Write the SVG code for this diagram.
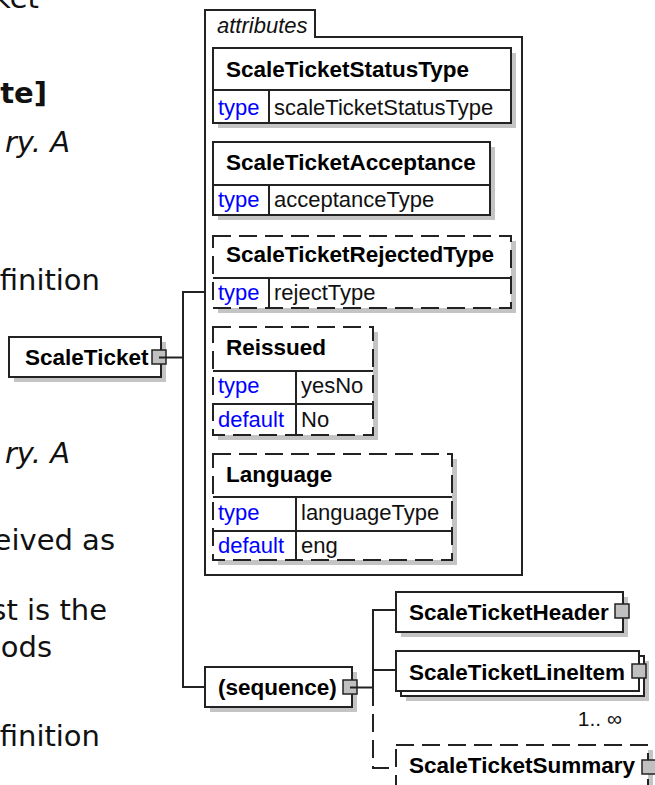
<svg xmlns="http://www.w3.org/2000/svg" width="655" height="785" viewBox="0 0 655 785">
<style>
.doc{font-family:"DejaVu Sans",Verdana,sans-serif;font-size:29px;fill:#111}
.docb{font-weight:bold}
.doci{font-style:italic}
.box{fill:#fff;stroke:#222;stroke-width:2}
.dash{stroke-dasharray:18 8}
.sh{fill:#c4c4c4}
.ln{fill:none;stroke:#222;stroke-width:2}
.div{stroke:#222;stroke-width:2}
.name{font-family:"Liberation Sans",Arial,sans-serif;font-weight:bold;font-size:22.5px;fill:#000}
.key{font-family:"Liberation Sans",Arial,sans-serif;font-size:22px;fill:#0000ff}
.val{font-family:"Liberation Sans",Arial,sans-serif;font-size:22px;fill:#111}
.small{font-family:"Liberation Sans",Arial,sans-serif;font-size:21px;fill:#111}
.tab{font-family:"Liberation Sans",Arial,sans-serif;font-style:italic;font-size:22px;fill:#111}
.btn{fill:#c0c0c0;stroke:#222;stroke-width:1.5}
</style>
<rect width="655" height="785" fill="#fff"/>
<g id="doc-text" class="doc" text-anchor="end">
<text x="39" y="8">ket</text>
<text x="47" y="103" class="docb">ute]</text>
<text x="70" y="152" class="doci">ry. A</text>
<text x="100" y="290">finition</text>
<text x="70" y="463" class="doci">ry. A</text>
<text x="115" y="550">eived as</text>
<text x="107" y="620">st is the</text>
<text x="52" y="657">ods</text>
<text x="100" y="746">finition</text>
</g>
<g id="connectors" class="ln">
<path d="M159,357.5 H183"/>
<path d="M205,292 H183 V687 H205"/>
<path d="M350,687.5 H373"/>
<path d="M396,610 H373 V688"/>
<path d="M373,670 H396"/>
<path d="M373,688 V768 H396" stroke-dasharray="18 8"/>
</g>
<g id="node-ScaleTicket">
<rect class="sh" x="14" y="342" width="152" height="40"/>
<rect class="box" x="9" y="337" width="152" height="40"/>
<text class="name" x="25" y="365">ScaleTicket</text>
<rect class="btn" x="152" y="350" width="14" height="14"/>
<line class="div" x1="159" y1="357.5" x2="166" y2="357.5"/>
</g>
<g id="attributes">
<path d="M205,575 V10 H315 V37 H522 V575 Z" fill="#fff" stroke="#222" stroke-width="2"/>
<text class="tab" x="217" y="33">attributes</text>
</g>
<g id="attr-ScaleTicketStatusType">
<rect class="sh" x="218" y="53" width="298" height="75"/>
<rect class="box" x="213" y="48" width="298" height="75"/>
<line class="div" x1="213" y1="90" x2="511" y2="90"/>
<line class="div" x1="269" y1="90" x2="269" y2="123"/>
<text class="name" x="226" y="77">ScaleTicketStatusType</text>
<text class="key" x="218" y="115">type</text>
<text class="val" x="274" y="115">scaleTicketStatusType</text>
</g>
<g id="attr-ScaleTicketAcceptance">
<rect class="sh" x="218" y="147" width="277" height="73"/>
<rect class="box" x="213" y="142" width="277" height="73"/>
<line class="div" x1="213" y1="185" x2="490" y2="185"/>
<line class="div" x1="269" y1="185" x2="269" y2="215"/>
<text class="name" x="226" y="170">ScaleTicketAcceptance</text>
<text class="key" x="218" y="207">type</text>
<text class="val" x="274" y="207">acceptanceType</text>
</g>
<g id="attr-ScaleTicketRejectedType">
<rect class="sh" x="218" y="241" width="298" height="72"/>
<rect class="box dash" x="213" y="236" width="298" height="72"/>
<line class="div" x1="213" y1="278" x2="511" y2="278"/>
<line class="div" x1="269" y1="278" x2="269" y2="308"/>
<text class="name" x="226" y="262">ScaleTicketRejectedType</text>
<text class="key" x="218" y="300">type</text>
<text class="val" x="274" y="300">rejectType</text>
</g>
<g id="attr-Reissued">
<rect class="sh" x="218" y="332" width="160" height="108"/>
<rect class="box dash" x="213" y="327" width="160" height="108"/>
<line class="div" x1="213" y1="371" x2="373" y2="371"/>
<line class="div" x1="213" y1="404" x2="373" y2="404"/>
<line class="div" x1="296" y1="371" x2="296" y2="435"/>
<text class="name" x="226" y="355">Reissued</text>
<text class="key" x="218" y="393">type</text>
<text class="val" x="301" y="393">yesNo</text>
<text class="key" x="218" y="427">default</text>
<text class="val" x="301" y="427">No</text>
</g>
<g id="attr-Language">
<rect class="sh" x="218" y="459" width="239" height="106"/>
<rect class="box dash" x="213" y="454" width="239" height="106"/>
<line class="div" x1="213" y1="497" x2="452" y2="497"/>
<line class="div" x1="213" y1="531" x2="452" y2="531"/>
<line class="div" x1="296" y1="497" x2="296" y2="560"/>
<text class="name" x="226" y="482">Language</text>
<text class="key" x="218" y="520">type</text>
<text class="val" x="301" y="520">languageType</text>
<text class="key" x="218" y="553">default</text>
<text class="val" x="301" y="553">eng</text>
</g>
<g id="node-sequence">
<rect class="sh" x="210" y="672" width="147" height="40"/>
<rect class="box" x="205" y="667" width="147" height="40"/>
<text class="name" x="218" y="695">(sequence)</text>
<rect class="btn" x="343" y="680" width="14" height="14"/>
<line class="div" x1="350" y1="687.5" x2="357" y2="687.5"/>
</g>
<g id="node-ScaleTicketHeader">
<rect class="sh" x="401" y="597" width="227" height="40"/>
<rect class="box" x="396" y="592" width="227" height="40"/>
<text class="name" x="409" y="620">ScaleTicketHeader</text>
<rect class="btn" x="615" y="604" width="14" height="14"/>
</g>
<g id="node-ScaleTicketLineItem">
<rect class="sh" x="406" y="661" width="243" height="40"/>
<rect class="box" x="401" y="656" width="243" height="40"/>
<rect class="box" x="396" y="651" width="243" height="40"/>
<text class="name" x="409" y="680">ScaleTicketLineItem</text>
<rect class="btn" x="632" y="664" width="14" height="14"/>
<text class="small" x="622" y="726" text-anchor="end">1.. ∞</text>
</g>
<g id="node-ScaleTicketSummary">
<rect class="sh" x="401" y="750" width="252" height="45"/>
<rect class="box dash" x="396" y="745" width="252" height="45"/>
<text class="name" x="409" y="773">ScaleTicketSummary</text>
<rect class="btn" x="642" y="760" width="14" height="14"/>
</g>
</svg>
